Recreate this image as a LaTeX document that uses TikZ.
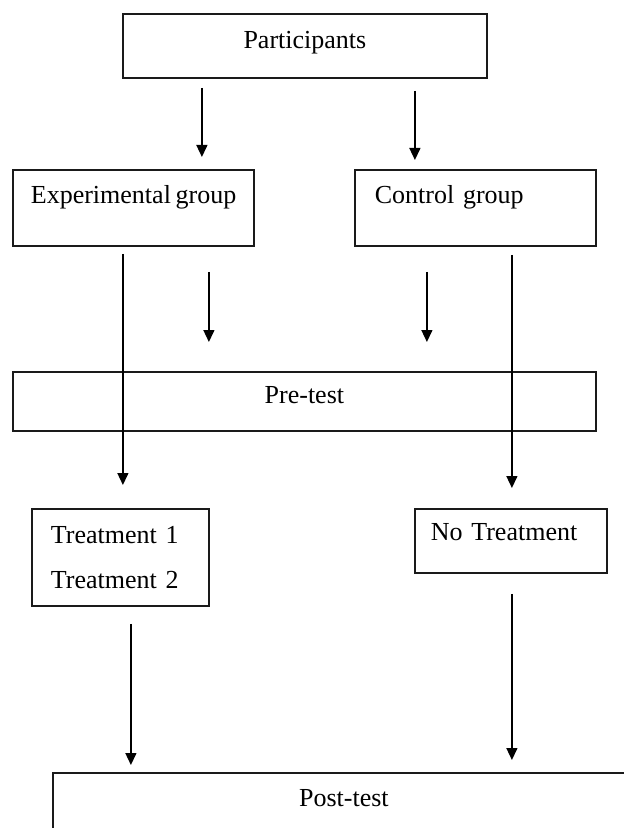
\documentclass[tikz,border=0pt]{standalone}
\usepackage{fontspec}
\setmainfont{Liberation Serif}
\usepackage{tikz}
\usetikzlibrary{arrows.meta,positioning,calc}
\definecolor{BoxLine}{HTML}{1A1A1A}
\begin{document}
\begin{tikzpicture}[font=\fontsize{13}{22.5}\selectfont, >={Triangle[width=5.5pt,length=6pt]}, x=0.5pt, y=-0.5pt]
\tikzset{stage/.style={draw=BoxLine, line width=.9pt, anchor=north west, inner sep=0pt}, wide/.style={stage, align=center, minimum height=29.5pt, text height=9pt}, group/.style={stage, align=left, minimum width=120.5pt, minimum height=38pt, text height=9pt, text depth=13pt}, flow/.style={->, line width=.7pt}}
\clip (0,0) rectangle (624,828);
\node[stage, minimum width=182pt, minimum height=32pt, text height=9pt, text depth=6pt] (part) at (122,13) {Participants};
\node[group, inner xsep=9pt, text width=102.5pt] (exp) at (12,169) {\mbox{Experimental\hspace{.18em}group}};
\node[group, inner xsep=10pt, text width=100.5pt] (ctrl) at (354,169) {Control~group};
\node[wide, minimum width=291.5pt, text depth=6.5pt] (pre) at (12,371) {Pre-test};
\node[stage, align=left, minimum width=88.5pt, minimum height=48.5pt, inner xsep=9.5pt, text width=69.5pt] (treat) at (31,508) {Treatment~1\\Treatment~2};
\node[stage, align=left, minimum width=96pt, minimum height=32pt, inner xsep=8pt, text width=80pt, text height=9pt, text depth=9pt] (notreat) at (414,508) {No~Treatment};
\node[wide, minimum width=291pt, text depth=4.5pt] (post) at (52,772) {Post-test};
\foreach \from/\to/\dx/\gapa/\gapb in {part/exp/-51.5/4.5/6, part/ctrl/55/6/4.5, exp/treat/-5.25/3.5/11.5, ctrl/notreat/18.25/4/10, exp/pre/37.75/12.5/14.5, ctrl/pre/-24.25/12.5/14.5, treat/post/5.25/8.5/3.5, notreat/post/0.5/10/6}
  \draw[flow, shorten <=\gapa pt, shorten >=\gapb pt] ([xshift=\dx pt]\from.south) -- ([xshift=\dx pt]\from.south |- \to.north);
\end{tikzpicture}
\end{document}
